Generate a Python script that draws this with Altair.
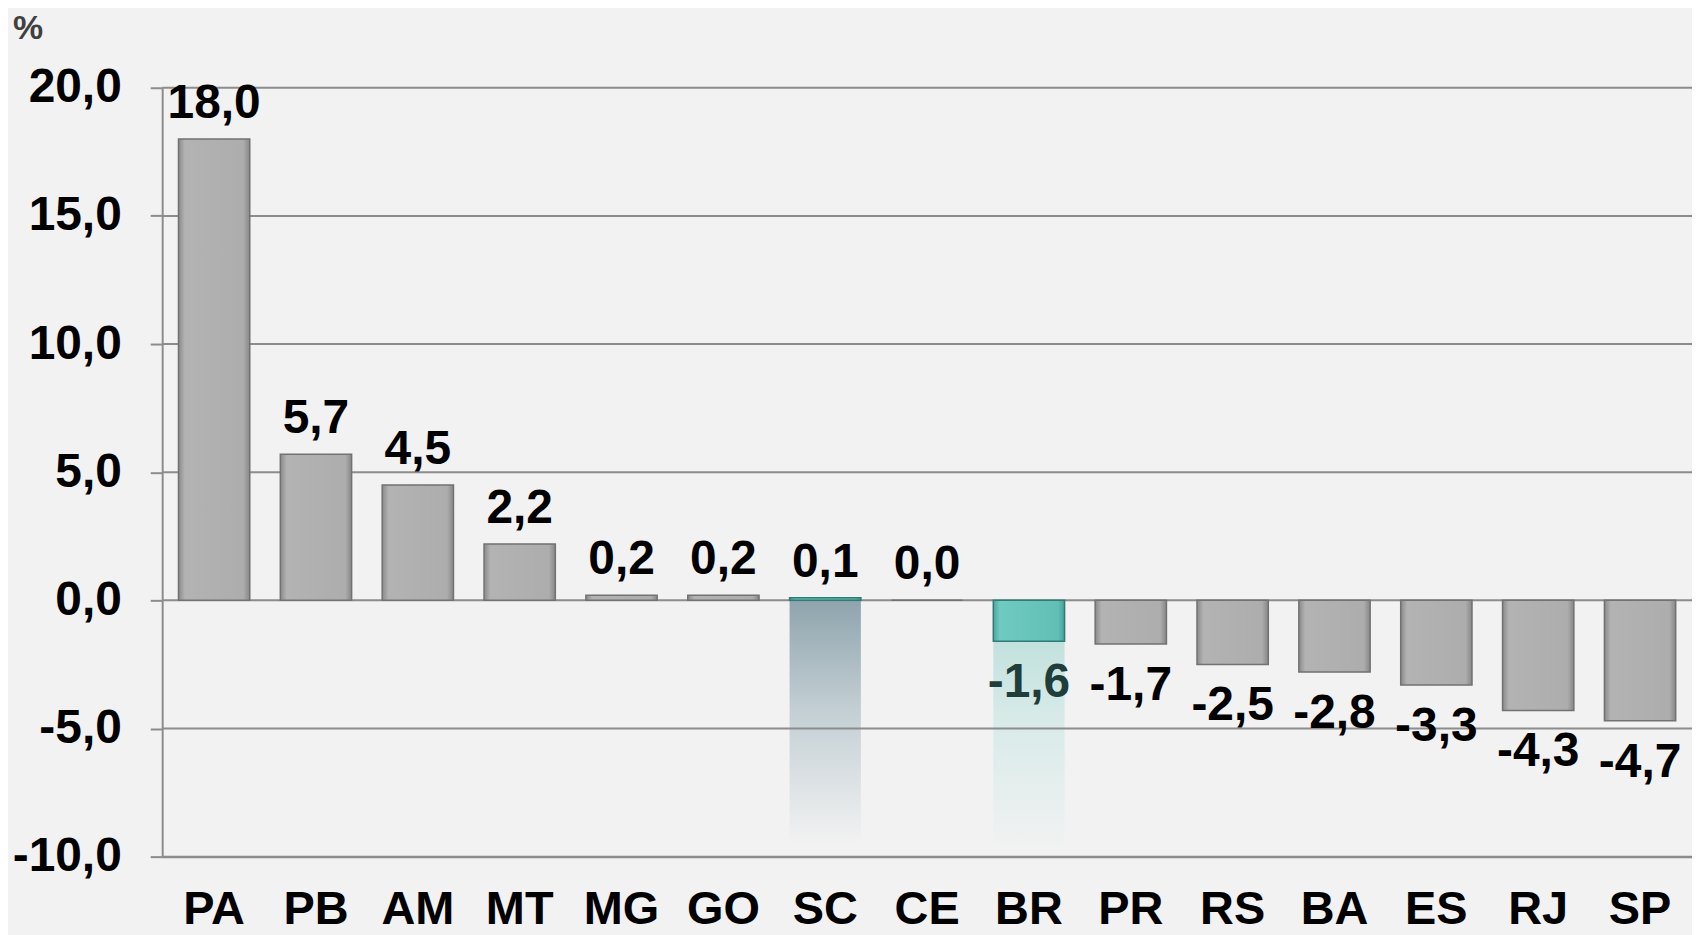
import altair as alt
import pandas as pd

# ---- data ----
states = ["PA", "PB", "AM", "MT", "MG", "GO", "SC", "CE", "BR", "PR", "RS", "BA", "ES", "RJ", "SP"]
values = [18.0, 5.7, 4.5, 2.2, 0.2, 0.2, 0.1, 0.0, -1.6, -1.7, -2.5, -2.8, -3.3, -4.3, -4.7]
highlight = ["SC", "BR"]
band_states = ["SC", "BR"]
band_low = [-9.5, -9.8]
y_ticks = [-10, -5, 0, 5, 10, 15, 20]

W, H = 1534, 771
FONT = "Liberation Sans"

df = pd.DataFrame({"state": states, "value": values})
df["label"] = [f"{v:.1f}".replace(".", ",") for v in values]
df["hl"] = df["state"].isin(highlight)
df_band = pd.DataFrame({"state": band_states, "value": band_low, "top": [0.0] * len(band_states)})
df_grid = pd.DataFrame({"value": y_ticks})

xs = alt.Scale(paddingInner=0.3, paddingOuter=0.16)
ys = alt.Scale(domain=[-10, 20], nice=False, zero=False)

x_axis = alt.Axis(
    title=None, labelAngle=0, ticks=False, labelFont=FONT, labelFontSize=47,
    labelFontWeight="bold", labelColor="#000000", labelPadding=30,
    domainColor="#8C8C8C", domainWidth=2,
)
y_axis = alt.Axis(
    values=y_ticks, grid=False, title="%", titleAngle=0, titleAlign="left",
    titleBaseline="top", titleX=-150, titleY=-76, titleFont=FONT,
    titleFontSize=34, titleFontWeight="bold", titleColor="#404040",
    labelExpr="(datum.value < 0 ? '-' : '') + replace(format(abs(datum.value), '.1f'), '.', ',')",
    labelFont=FONT, labelFontSize=48, labelFontWeight="bold", labelColor="#000000",
    labelPadding=29, tickSize=12, tickWidth=2, tickColor="#8C8C8C",
    domainColor="#8C8C8C", domainWidth=2,
)


def vgrad(stops):
    return alt.Gradient(gradient="linear", x1=0, y1=0, x2=0, y2=1,
                        stops=[alt.GradientStop(color=c, offset=o) for c, o in stops])


def hgrad(stops):
    return alt.Gradient(gradient="linear", x1=0, y1=0, x2=1, y2=0,
                        stops=[alt.GradientStop(color=c, offset=o) for c, o in stops])


band_sc = alt.Chart(df_band).transform_filter(alt.datum.state == "SC").mark_bar(
    fill=vgrad([("#8FA4AD", 0), ("#C3CFD4", 0.45), ("#F2F2F2", 1)])
).encode(y2="top:Q")
band_br = alt.Chart(df_band).transform_filter(alt.datum.state == "BR").mark_bar(
    fill=vgrad([("#B6DCD8", 0), ("#D6EAE8", 0.45), ("#F2F2F2", 1)])
).encode(y2="top:Q")

grid = alt.Chart(df_grid).mark_rule(color="#8C8C8C", strokeWidth=2).encode(
    x=alt.value(0),
    x2=alt.value(W),
)

bars_gray = alt.Chart(df).transform_filter("!datum.hl").mark_bar(
    fill=hgrad([("#8A8A8A", 0), ("#B3B3B3", 0.09), ("#ADADAD", 0.91), ("#878787", 1)]),
    stroke="#727272", strokeWidth=1.5,
).encode(y2=alt.datum(0))

bars_teal = alt.Chart(df).transform_filter("datum.hl").mark_bar(
    fill=hgrad([("#4AA59B", 0), ("#6FCBC1", 0.09), ("#62BFB5", 0.91), ("#47A096", 1)]),
    stroke="#2E7C75", strokeWidth=1.5,
).encode(y2=alt.datum(0))

lab_pos = alt.Chart(df).transform_filter("datum.value >= 0").mark_text(
    font=FONT, fontSize=48, fontWeight="bold", baseline="alphabetic", dy=-21, color="#000000"
).encode(text="label:N")

lab_neg = alt.Chart(df).transform_filter("datum.value < 0").mark_text(
    font=FONT, fontSize=48, fontWeight="bold", baseline="top", dy=18
).encode(
    text="label:N",
    color=alt.condition(alt.datum.state == "BR", alt.value("#1F3D3A"), alt.value("#000000")),
)

chart = alt.layer(
    band_sc, band_br, grid, bars_gray, bars_teal, lab_pos, lab_neg
).encode(
    x=alt.X("state:N", sort=states, scale=xs, axis=x_axis),
    y=alt.Y("value:Q", scale=ys, axis=y_axis),
).properties(
    width=W, height=H,
    autosize=alt.AutoSizeParams(type="none"),
    padding={"left": 154.6, "top": 78.7, "right": 0, "bottom": 78},
    background="#F2F2F2",
).configure_view(stroke=None)

chart.save("out.html", embed_options={"renderer": "svg", "actions": False})
